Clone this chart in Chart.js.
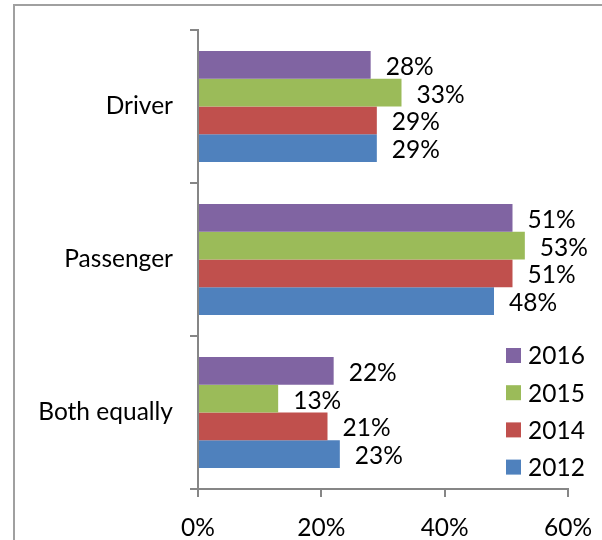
<!DOCTYPE html>
<html>
<head>
<meta charset="utf-8">
<script src="https://cdn.jsdelivr.net/npm/chart.js@4.4.1/dist/chart.umd.min.js"></script>
<style>
  html, body { margin: 0; padding: 0; background: #ffffff; }
  #wrap { position: relative; width: 602px; height: 540px; overflow: hidden; }
  canvas { display: block; }
</style>
</head>
<body>
<div id="wrap"><canvas id="c" width="602" height="540"></canvas></div>
<script>
// ---- data ----
const categories = ["Driver", "Passenger", "Both equally"];
const seriesNames = ["2016", "2015", "2014", "2012"];
const values2016 = [28, 51, 22];
const values2015 = [33, 53, 13];
const values2014 = [29, 51, 21];
const values2012 = [29, 48, 23];
const xTicks = [0, 20, 40, 60];

const colors = ["#8064A2", "#9BBB59", "#C0504D", "#4F81BD"];
const FONT = "Lato";
const FS = 24.5;

const frame = {
  id: "frame",
  beforeDraw(chart) {
    const ctx = chart.ctx;
    ctx.save();
    ctx.strokeStyle = "#a0a0a0";
    ctx.lineWidth = 2;
    ctx.beginPath();
    ctx.moveTo(14, 560);
    ctx.lineTo(14, 5);
    ctx.lineTo(640, 5);
    ctx.stroke();
    ctx.restore();
  }
};

const valueLabels = {
  id: "valueLabels",
  afterDatasetsDraw(chart) {
    const ctx = chart.ctx;
    ctx.save();
    ctx.font = FS + "px " + FONT;
    ctx.fillStyle = "#000000";
    ctx.textAlign = "left";
    ctx.textBaseline = "middle";
    chart.data.datasets.forEach((ds, i) => {
      chart.getDatasetMeta(i).data.forEach((bar, j) => {
        ctx.fillText(ds.data[j] + "%", bar.x + 15, bar.y + 2);
      });
    });
    ctx.restore();
  }
};

const innerLegend = {
  id: "innerLegend",
  afterDraw(chart) {
    const ctx = chart.ctx;
    ctx.save();
    ctx.font = FS + "px " + FONT;
    ctx.textAlign = "left";
    ctx.textBaseline = "middle";
    chart.data.datasets.forEach((ds, i) => {
      const cy = 355.5 + i * 37.2;
      ctx.fillStyle = ds.backgroundColor;
      ctx.fillRect(506, cy - 7.5, 15, 15);
      ctx.fillStyle = "#000000";
      ctx.fillText(ds.label, 528, cy + 1);
    });
    ctx.restore();
  }
};

function start() {
  const datasets = [values2016, values2015, values2014, values2012].map((d, i) => ({
    label: seriesNames[i],
    data: d,
    backgroundColor: colors[i],
    borderWidth: 0,
    categoryPercentage: 0.725,
    barPercentage: 1.0
  }));

  new Chart(document.getElementById("c"), {
    type: "bar",
    data: { labels: categories, datasets },
    options: {
      indexAxis: "y",
      responsive: false,
      animation: false,
      devicePixelRatio: 1,
      layout: { padding: { top: 30, right: 34, left: 0, bottom: 0 } },
      plugins: { legend: { display: false }, tooltip: { enabled: false } },
      scales: {
        x: {
          min: 0, max: 60,
          afterBuildTicks(scale) { scale.ticks = xTicks.map(v => ({ value: v })); },
          afterFit(scale) { scale.height = 51; scale.paddingLeft = 0; scale.paddingRight = 0; },
          grid: { drawOnChartArea: false, drawTicks: true, tickLength: 8, color: "#868686", lineWidth: 2 },
          border: { display: true, color: "#868686", width: 2 },
          ticks: {
            padding: 16,
            color: "#000000",
            font: { family: FONT, size: FS },
            callback: v => v + "%"
          }
        },
        y: {
          afterFit(scale) { scale.width = 198; scale.paddingTop = 0; scale.paddingBottom = 0; },
          grid: { offset: true, drawOnChartArea: false, drawTicks: true, tickLength: 8, color: "#868686", lineWidth: 2 },
          border: { display: true, color: "#868686", width: 2 },
          ticks: {
            padding: 17,
            color: "#000000",
            font: { family: FONT, size: FS }
          }
        }
      }
    },
    plugins: [frame, valueLabels, innerLegend]
  });
}

if (document.fonts && document.fonts.load) {
  document.fonts.load(FS + "px " + FONT).then(start, start);
} else {
  start();
}
</script>
</body>
</html>
